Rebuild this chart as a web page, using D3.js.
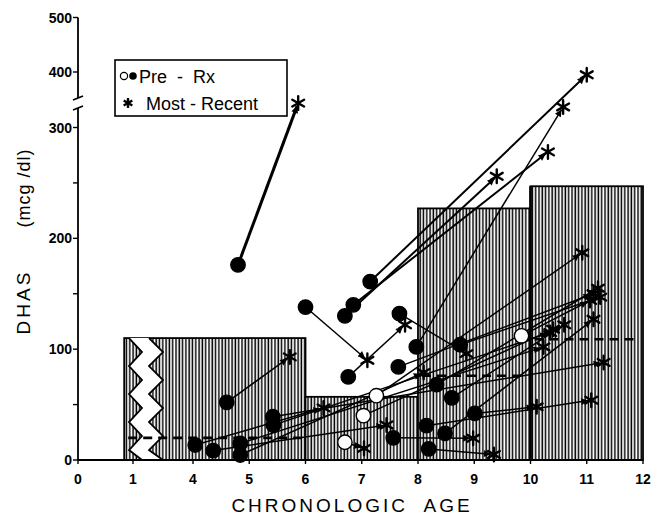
<!DOCTYPE html>
<html>
<head>
<meta charset="utf-8">
<script src="https://cdn.jsdelivr.net/npm/d3@7"></script>
<style>
  body { margin: 0; background: #fff; }
  svg { display: block; }
  text { font-family: "Liberation Sans", Arial, sans-serif; fill: #000; }
</style>
</head>
<body>
<svg width="651" height="522"></svg>
<script>
// normal ranges (hatched bars)
const normStart = [0.84, 6, 8, 10];
const normEnd = [6, 8, 10, 12];
const normUpper = [110, 57, 227, 247];
const normMean = [20, null, 76, 109];

// patients: pre-treatment value -> most recent value
const preAge = [4.8, 6.0, 6.76, 6.7, 6.85, 7.15, 7.97, 7.67, 4.6, 4.04, 4.36, 4.84, 4.84, 5.42, 5.43,
  6.7, 7.03, 7.26, 9.84, 7.65, 8.75, 8.33, 8.6, 9.01, 8.15, 8.48, 7.56, 8.19];
const preDhas = [176, 138, 75, 130, 140, 161, 102, 132, 52, 13.5, 8.5, 15, 4.5, 39, 31.5,
  16, 40, 58, 112, 84, 104, 68, 56, 42, 31, 24, 20, 10];
const preOpen = [false, false, false, false, false, false, false, false, false, false, false, false, false, false, false,
  true, true, true, true, false, false, false, false, false, false, false, false, false];
const recentAge = [5.87, 7.1, 7.77, 9.4, 10.31, 11.0, 10.58, 8.86, 5.72, 6.32, 7.44, 10.23, 8.1, 11.3, 10.35,
  7.04, 10.4, 10.92, 11.06, 11.12, 11.24, 11.2, 10.6, 10.11, 11.08, 11.12, 8.98, 9.35];
const recentDhas = [344, 90, 122, 256, 278, 395, 337, 96, 93, 47, 31.6, 102, 79, 88, 115,
  10.5, 118, 187, 144, 150, 147, 155, 122, 48, 54, 127, 19.6, 5];
const boldIdx = [0];
const semiBoldIdx = [3, 4, 5];

// axes
const xTicks = [0, 1, 4, 5, 6, 7, 8, 9, 10, 11, 12];
const yTicks = [0, 100, 200, 300, 400, 500];
const yMinor = [50, 150, 250];

const svg = d3.select("svg");

// broken scales: 1 -> 4 compressed, 300 -> 400 compressed
const x = d3.scaleLinear().domain([0, 1, 4, 12]).range([78, 133, 193, 643]);
const y = d3.scaleLinear().domain([0, 300, 400, 500]).range([460, 127.5, 72, 17.5]);

const defs = svg.append("defs");
const pat = defs.append("pattern")
  .attr("id", "hatch")
  .attr("patternUnits", "userSpaceOnUse")
  .attr("width", 3.3)
  .attr("height", 10);
pat.append("rect").attr("width", 3.3).attr("height", 10).attr("fill", "#fff");
pat.append("line")
  .attr("x1", 1.1).attr("x2", 1.1).attr("y1", 0).attr("y2", 10)
  .attr("stroke", "#000").attr("stroke-width", 1.5);

defs.append("marker")
  .attr("id", "arrow")
  .attr("viewBox", "0 0 10 10")
  .attr("refX", 10).attr("refY", 5)
  .attr("markerWidth", 10).attr("markerHeight", 7)
  .attr("markerUnits", "userSpaceOnUse")
  .attr("orient", "auto")
  .append("path")
  .attr("d", "M0,0L10,5L0,10z")
  .attr("fill", "#000");

// bars
const bars = normStart.map((s, i) => ({ s: s, e: normEnd[i], top: normUpper[i], mean: normMean[i] }));
svg.append("g")
  .selectAll("rect")
  .data(bars)
  .enter()
  .append("rect")
  .attr("x", (d) => x(d.s))
  .attr("y", (d) => y(d.top))
  .attr("width", (d) => x(d.e) - x(d.s))
  .attr("height", (d) => y(0) - y(d.top))
  .attr("fill", "url(#hatch)")
  .attr("stroke", "#000")
  .attr("stroke-width", 1.8);

// thick divider at age 10
svg.append("line")
  .attr("x1", x(10)).attr("x2", x(10))
  .attr("y1", y(0)).attr("y2", y(normUpper[3]))
  .attr("stroke", "#000").attr("stroke-width", 2.6);

// zigzag break in first bar
const zTop = y(normUpper[0]);
const zBot = y(0);
const leftZ = [];
const rightZ = [];
for (let i = 0, yy = zTop; yy <= zBot + 14; i++, yy += 14) {
  const yc = Math.min(yy, zBot);
  leftZ.push([x(1) - 4 + (i % 2) * 13, yc]);
  rightZ.push([x(1) + 16 + (i % 2) * 14, yc]);
}
svg.append("path")
  .attr("d", d3.line()(leftZ.concat(rightZ.slice().reverse())) + "Z")
  .attr("fill", "#fff");
svg.selectAll(".zig")
  .data([leftZ, rightZ])
  .enter()
  .append("path")
  .attr("d", (d) => d3.line()(d))
  .attr("fill", "none")
  .attr("stroke", "#000")
  .attr("stroke-width", 1.8);

// dashed mean lines
svg.append("g")
  .selectAll("line")
  .data(bars.filter((d) => d.mean !== null))
  .enter()
  .append("line")
  .attr("x1", (d) => x(d.s) + 4)
  .attr("x2", (d) => x(d.e) - 4)
  .attr("y1", (d) => y(d.mean))
  .attr("y2", (d) => y(d.mean))
  .attr("stroke", "#000")
  .attr("stroke-width", 2.6)
  .attr("stroke-dasharray", "9,6");

// arrows
const pts = preAge.map((a, i) => {
  const x0 = x(a), y0 = y(preDhas[i]);
  const x1 = x(recentAge[i]), y1 = y(recentDhas[i]);
  const len = Math.hypot(x1 - x0, y1 - y0);
  return {
    x0, y0, x1, y1,
    ex: x1 - ((x1 - x0) / len) * 3,
    ey: y1 - ((y1 - y0) / len) * 3,
    open: preOpen[i],
    w: boldIdx.includes(i) ? 3 : semiBoldIdx.includes(i) ? 2 : 1.5,
  };
});

svg.append("g")
  .selectAll("line")
  .data(pts)
  .enter()
  .append("line")
  .attr("x1", (d) => d.x0).attr("y1", (d) => d.y0)
  .attr("x2", (d) => d.ex).attr("y2", (d) => d.ey)
  .attr("stroke", "#000")
  .attr("stroke-width", (d) => d.w)
  .attr("marker-end", "url(#arrow)");

// most recent (asterisks)
const star = d3.symbol().type(d3.symbolAsterisk).size(130);
svg.append("g")
  .selectAll("path")
  .data(pts)
  .enter()
  .append("path")
  .attr("d", star)
  .attr("transform", (d) => "translate(" + d.x1 + "," + d.y1 + ")")
  .attr("fill", "none")
  .attr("stroke", "#000")
  .attr("stroke-width", 2.4)
  .attr("stroke-linecap", "round");

// pre-treatment (circles)
svg.append("g")
  .selectAll("circle")
  .data(pts)
  .enter()
  .append("circle")
  .attr("cx", (d) => d.x0)
  .attr("cy", (d) => d.y0)
  .attr("r", 7.2)
  .attr("fill", (d) => (d.open ? "#fff" : "#000"))
  .attr("stroke", "#000")
  .attr("stroke-width", 1.4);

// x axis
const ax = svg.append("g").attr("font-weight", "bold").attr("font-size", 14);
ax.append("line")
  .attr("x1", x(0)).attr("x2", x(12))
  .attr("y1", y(0)).attr("y2", y(0))
  .attr("stroke", "#000").attr("stroke-width", 1.8);
ax.selectAll(".xt")
  .data(xTicks)
  .enter()
  .append("line")
  .attr("x1", (d) => x(d)).attr("x2", (d) => x(d))
  .attr("y1", y(0)).attr("y2", y(0) + 4)
  .attr("stroke", "#000").attr("stroke-width", 1.4);
ax.selectAll(".xl")
  .data(xTicks)
  .enter()
  .append("text")
  .attr("x", (d) => x(d))
  .attr("y", 484)
  .attr("text-anchor", "middle")
  .text((d) => d);

// y axis with break
const ay = svg.append("g").attr("font-weight", "bold").attr("font-size", 14);
ay.append("line")
  .attr("x1", x(0)).attr("x2", x(0))
  .attr("y1", y(500)).attr("y2", 98)
  .attr("stroke", "#000").attr("stroke-width", 1.8);
ay.append("line")
  .attr("x1", x(0)).attr("x2", x(0))
  .attr("y1", 108).attr("y2", y(0))
  .attr("stroke", "#000").attr("stroke-width", 1.8);
ay.selectAll(".brk")
  .data([100, 110])
  .enter()
  .append("line")
  .attr("x1", x(0) - 5).attr("x2", x(0) + 5)
  .attr("y1", (d) => d).attr("y2", (d) => d - 4)
  .attr("stroke", "#000").attr("stroke-width", 1.6);
ay.selectAll(".yt")
  .data(yTicks.concat(yMinor))
  .enter()
  .append("line")
  .attr("x1", x(0) - 5).attr("x2", x(0))
  .attr("y1", (d) => y(d)).attr("y2", (d) => y(d))
  .attr("stroke", "#000").attr("stroke-width", 1.4);
ay.selectAll(".yl")
  .data(yTicks)
  .enter()
  .append("text")
  .attr("x", x(0) - 6)
  .attr("y", (d) => y(d) + 5)
  .attr("text-anchor", "end")
  .text((d) => d);

// axis titles
svg.append("text")
  .attr("x", 352)
  .attr("y", 512)
  .attr("text-anchor", "middle")
  .attr("font-size", 19)
  .attr("letter-spacing", 3)
  .attr("xml:space", "preserve")
  .text("CHRONOLOGIC  AGE");
svg.append("text")
  .attr("transform", "translate(30,302) rotate(-90)")
  .attr("text-anchor", "middle")
  .attr("font-size", 19)
  .attr("letter-spacing", 3)
  .text("DHAS");
svg.append("text")
  .attr("transform", "translate(30,188) rotate(-90)")
  .attr("text-anchor", "middle")
  .attr("font-size", 18)
  .attr("letter-spacing", 1)
  .text("(mcg /dl)");

// legend
const lg = svg.append("g");
lg.append("rect")
  .attr("x", 115).attr("y", 60)
  .attr("width", 172).attr("height", 56)
  .attr("fill", "#fff")
  .attr("stroke", "#000").attr("stroke-width", 1.6);
lg.append("circle").attr("cx", 124).attr("cy", 76).attr("r", 3.6)
  .attr("fill", "#fff").attr("stroke", "#000").attr("stroke-width", 1.2);
lg.append("circle").attr("cx", 133).attr("cy", 76).attr("r", 3.8).attr("fill", "#000");
lg.append("text").attr("x", 139).attr("y", 83).attr("font-size", 18)
  .attr("xml:space", "preserve").text("Pre  -  Rx");
lg.append("path")
  .attr("d", d3.symbol().type(d3.symbolAsterisk).size(70))
  .attr("transform", "translate(128,103)")
  .attr("fill", "none").attr("stroke", "#000").attr("stroke-width", 2.4);
lg.append("text").attr("x", 146).attr("y", 110).attr("font-size", 18)
  .attr("xml:space", "preserve").text("Most - Recent");
</script>
</body>
</html>
